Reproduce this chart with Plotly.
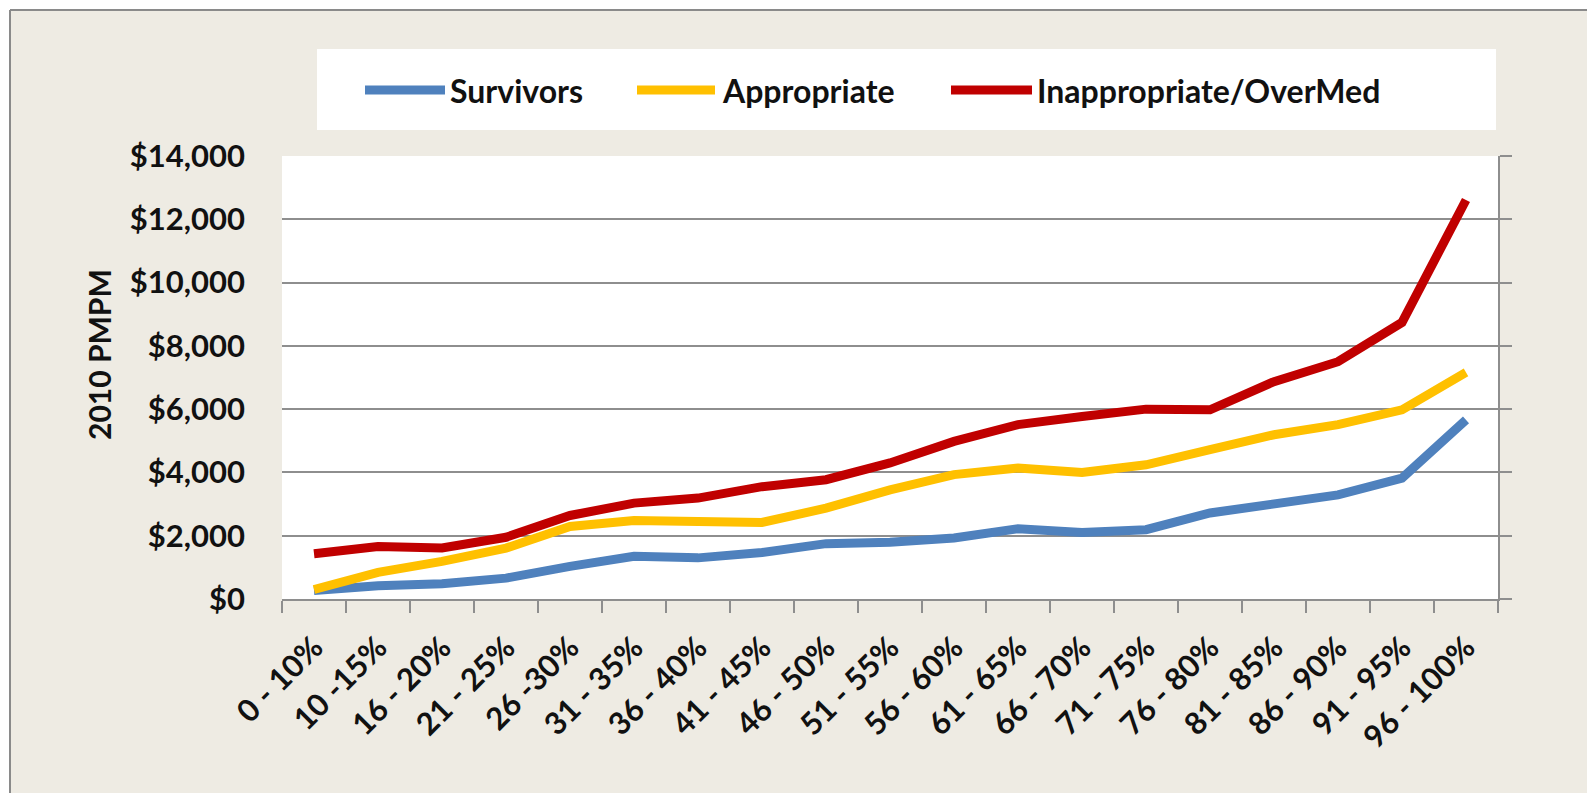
import plotly.graph_objects as go

# Cost percentile bands and 2010 PMPM cost for each group
categories = ["0 - 10%", "10 -15%", "16 - 20%", "21 - 25%", "26 -30%", "31 - 35%",
              "36 - 40%", "41 - 45%", "46 - 50%", "51 - 55%", "56 - 60%", "61 - 65%",
              "66 - 70%", "71 - 75%", "76 - 80%", "81 - 85%", "86 - 90%", "91 - 95%",
              "96 - 100%"]
survivors = [270, 420, 480, 660, 1030, 1350, 1300, 1470, 1750, 1790, 1930, 2220,
             2100, 2190, 2720, 3030, 3290, 3820, 5660]
appropriate = [300, 840, 1190, 1610, 2290, 2480, 2450, 2420, 2870, 3450, 3930, 4140,
               4000, 4240, 4720, 5190, 5510, 5980, 7160]
inappropriate = [1430, 1660, 1610, 1950, 2640, 3030, 3190, 3550, 3770, 4300, 4980, 5510,
                 5770, 6000, 5980, 6870, 7500, 8740, 12610]

series_names = ["Survivors", "Appropriate", "Inappropriate/OverMed"]
series_colors = ["#4F81BD", "#FFC000", "#C00000"]
y_ticks = [0, 2000, 4000, 6000, 8000, 10000, 12000, 14000]
y_tick_text = ["$0", "$2,000", "$4,000", "$6,000", "$8,000", "$10,000", "$12,000", "$14,000"]
y_title = "2010 PMPM"

W, H = 1587, 793
L, R, T, B = 282, 1498, 156, 599  # plot area in pixels
BG = "#EEEBE3"
GRID = "#8E8E8E"
FONT = "Lato"


def px(x):
    return (x - L) / (R - L)


def py(y):
    return (B - y) / (B - T)


fig = go.Figure()
for name, vals, col in zip(series_names, [survivors, appropriate, inappropriate], series_colors):
    fig.add_trace(go.Scatter(x=categories, y=vals, name=name, mode="lines",
                             line=dict(color=col, width=9), showlegend=False))

# invisible trace carrying the right-hand axis (frame line + stubs)
fig.add_trace(go.Scatter(x=[categories[0]], y=[0], yaxis="y2", mode="markers",
                         marker=dict(opacity=0), showlegend=False, hoverinfo="skip"))

shapes = [
    # white margin outside the frame
    dict(type="rect", xref="paper", yref="paper", x0=px(-5), x1=px(W + 5), y0=py(-5), y1=py(10),
         fillcolor="white", line=dict(width=0), layer="below"),
    dict(type="rect", xref="paper", yref="paper", x0=px(-5), x1=px(10), y0=py(-5), y1=py(H + 5),
         fillcolor="white", line=dict(width=0), layer="below"),
    dict(type="line", xref="paper", yref="paper", x0=px(10), x1=px(W + 5), y0=py(10), y1=py(10),
         line=dict(color="#8A8A8A", width=2), layer="below"),
    dict(type="line", xref="paper", yref="paper", x0=px(10), x1=px(10), y0=py(10), y1=py(H + 5),
         line=dict(color="#8A8A8A", width=2), layer="below"),
    # legend box
    dict(type="rect", xref="paper", yref="paper", x0=px(317), x1=px(1496), y0=py(130), y1=py(49),
         fillcolor="white", line=dict(width=0), layer="below"),
]

annotations = []
legend_items = [(365, 445, 448), (637, 715, 720), (951, 1032, 1035)]
for (lx0, lx1, tx), name, col in zip(legend_items, series_names, series_colors):
    shapes.append(dict(type="line", xref="paper", yref="paper", x0=px(lx0), x1=px(lx1),
                       y0=py(90), y1=py(90), line=dict(color=col, width=9), layer="above"))
    annotations.append(dict(xref="paper", yref="paper", x=px(tx), y=py(90), text=name,
                            showarrow=False, xanchor="left", yanchor="middle",
                            font=dict(family=FONT, size=32, color="#111111", weight="bold")))

annotations.append(dict(xref="paper", yref="paper", x=px(99), y=py(355), text=y_title,
                        textangle=-90, showarrow=False, xanchor="center", yanchor="middle",
                        font=dict(family=FONT, size=30, color="#111111", weight="bold")))

tick_font = dict(family=FONT, size=31, color="#111111", weight="bold")

fig.update_layout(
    width=W, height=H,
    margin=dict(l=L, r=W - R, t=T, b=H - B, pad=0),
    paper_bgcolor=BG, plot_bgcolor="white",
    showlegend=False,
    shapes=shapes, annotations=annotations,
    xaxis=dict(type="category", range=[-0.5, len(categories) - 0.5],
               tickson="boundaries", ticks="outside", ticklen=12, tickwidth=2, tickcolor=GRID,
               showline=True, linecolor=GRID, linewidth=2, showgrid=False,
               tickangle=-45, tickfont=tick_font, ticklabelstandoff=16),
    yaxis=dict(range=[0, 14000], tickvals=y_ticks, ticktext=y_tick_text,
               showgrid=True, gridcolor=GRID, gridwidth=2, zeroline=False,
               showline=False, ticks="", tickfont=tick_font, ticklabelstandoff=36),
    yaxis2=dict(range=[0, 14000], tickvals=y_ticks, overlaying="y", side="right",
                showgrid=False, zeroline=False, showline=True, linecolor=GRID, linewidth=2,
                ticks="outside", ticklen=12, tickwidth=2, tickcolor=GRID,
                showticklabels=False),
)

fig.write_html("out.html")
